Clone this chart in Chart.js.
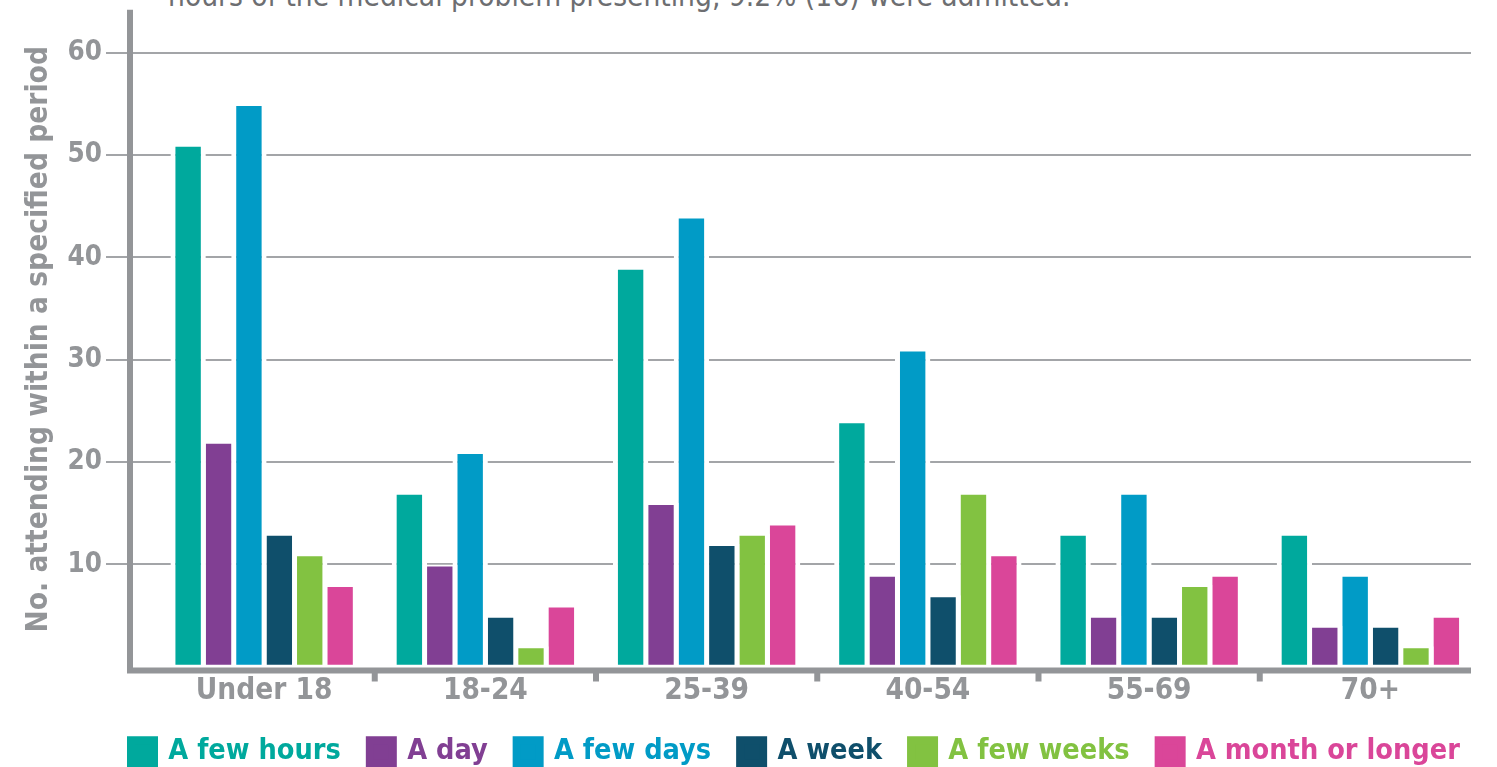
<!DOCTYPE html>
<html>
<head>
<meta charset="utf-8">
<script src="https://cdn.jsdelivr.net/npm/chart.js@4.4.1/dist/chart.umd.min.js"></script>
<style>
  html, body { margin: 0; padding: 0; background: #fff; overflow: hidden; }
  body { width: 1497px; height: 767px; position: relative; }
  #lead {
    position: absolute; left: 168px; top: -18px;
    font: 29.6px 'DejaVu Sans Condensed', 'DejaVu Sans', sans-serif;
    line-height: 29.6px; color: #6d6e71; white-space: nowrap;
  }
  #wrap { position: absolute; left: 0; top: 0; width: 1497px; height: 776px; }
</style>
</head>
<body>
<div id="lead">hours of the medical problem presenting, 9.2% (16) were admitted.</div>
<div id="wrap"><canvas id="chart"></canvas></div>
<script>
// age groups on the x axis
const ageGroups = ["Under 18", "18-24", "25-39", "40-54", "55-69", "70+"];

// number attending within each period, per age group
const fewHours = [51, 17, 39, 24, 13, 13];
const aDay = [22, 10, 16, 9, 5, 4];
const fewDays = [55, 21, 44, 31, 17, 9];
const aWeek = [13, 5, 12, 7, 5, 4];
const fewWeeks = [11, 2, 13, 17, 8, 2];
const monthOrLonger = [8, 6, 14, 11, 9, 5];

const periodLabels = ["A few hours", "A day", "A few days", "A week", "A few weeks", "A month or longer"];
const periodValues = [fewHours, aDay, fewDays, aWeek, fewWeeks, monthOrLonger];
const periodColors = ["#00a99d", "#813f93", "#019bc6", "#0f4f6b", "#82c241", "#da4699"];

const yTicks = [10, 20, 30, 40, 50, 60];
const yMax = 64;

const FONT = "'DejaVu Sans Condensed', 'DejaVu Sans', sans-serif";
const GREY = "#939598";

// gridlines, axis lines and group marks are drawn by hand: the axis sits
// a little left of the first group, like in the printed figure
const axisGuides = {
  id: "axisGuides",
  beforeDatasetsDraw(chart) {
    const { ctx, scales: { x, y } } = chart;
    const axisX = x.left - 23.5;
    ctx.save();
    ctx.strokeStyle = "#a3a5a8";
    ctx.lineWidth = 2;
    for (const t of y.ticks) {
      const py = Math.round(y.getPixelForValue(t.value));
      ctx.beginPath();
      ctx.moveTo(axisX - 24, py);
      ctx.lineTo(x.right - 10, py);
      ctx.stroke();
    }
    ctx.restore();
  },
  afterDatasetsDraw(chart) {
    const { ctx, scales: { x, y } } = chart;
    const axisX = x.left - 23.5;
    const base = y.getPixelForValue(0) + 3.7;
    ctx.save();
    ctx.strokeStyle = GREY;
    ctx.lineWidth = 6;
    ctx.beginPath();
    ctx.moveTo(axisX, y.top - 2);
    ctx.lineTo(axisX, base + 3);
    ctx.moveTo(axisX - 3, base);
    ctx.lineTo(x.right - 10, base);
    ctx.stroke();
    // small marks between the age groups
    for (let i = 1; i < ageGroups.length; i++) {
      const px = (x.getPixelForValue(i - 1) + x.getPixelForValue(i)) / 2;
      ctx.beginPath();
      ctx.moveTo(px, base);
      ctx.lineTo(px, base + 11);
      ctx.stroke();
    }
    ctx.restore();
  },
  afterLayout(chart) {
    // start the legend row under the drawn y axis instead of centring on the canvas
    const lg = chart.legend, x = chart.scales.x;
    const w = lg.right - lg.left;
    const target = x.left - 22.5;
    lg.left = target - (lg.options.labels.padding + w - lg.lineWidths[0]) / 2;
    lg.right = lg.left + w;
  }
};

new Chart(document.getElementById("chart"), {
  type: "bar",
  data: {
    labels: ageGroups,
    datasets: periodLabels.map((label, i) => ({
      label,
      data: periodValues[i],
      backgroundColor: periodColors[i],
      borderColor: "#ffffff",
      borderWidth: { top: 2, bottom: 2, left: 5, right: 5 },
      borderSkipped: false,
      categoryPercentage: 0.8244,
      barPercentage: 1.164
    }))
  },
  options: {
    responsive: true,
    maintainAspectRatio: false,
    animation: false,
    events: [],
    layout: { padding: { left: 0, right: 16, top: 11.8, bottom: 0 } },
    scales: {
      x: {
        afterFit: s => { s.height = 41.6; },
        grid: { display: false, drawTicks: false },
        border: { display: false },
        ticks: { color: GREY, font: { family: FONT, size: 29.5, weight: "bold" }, padding: 7 }
      },
      y: {
        min: 0,
        max: yMax,
        afterBuildTicks: s => { s.ticks = yTicks.map(v => ({ value: v })); },
        afterFit: s => { s.width = 153.5; s.paddingTop = 0; s.paddingBottom = 0; },
        grid: { display: false, drawTicks: false },
        border: { display: false },
        ticks: { color: GREY, font: { family: FONT, size: 27.5, weight: "bold" }, padding: 51.5 },
        title: {
          display: true,
          text: "No. attending within a specified period",
          color: GREY,
          font: { family: FONT, size: 29.6, weight: "bold" },
          padding: { top: 22, bottom: 0 }
        }
      }
    },
    plugins: {
      tooltip: { enabled: false },
      legend: {
        position: "bottom",
        labels: {
          boxWidth: 23,
          boxHeight: 23,
          padding: 29,
          font: { family: FONT, size: 28.6, weight: "bold" },
          generateLabels: chart =>
            Chart.defaults.plugins.legend.labels.generateLabels(chart).map((item, i) => ({
              ...item,
              fillStyle: periodColors[i],
              strokeStyle: periodColors[i],
              lineWidth: 8,
              fontColor: periodColors[i]
            }))
        }
      }
    }
  },
  plugins: [axisGuides]
});
</script>
</body>
</html>
